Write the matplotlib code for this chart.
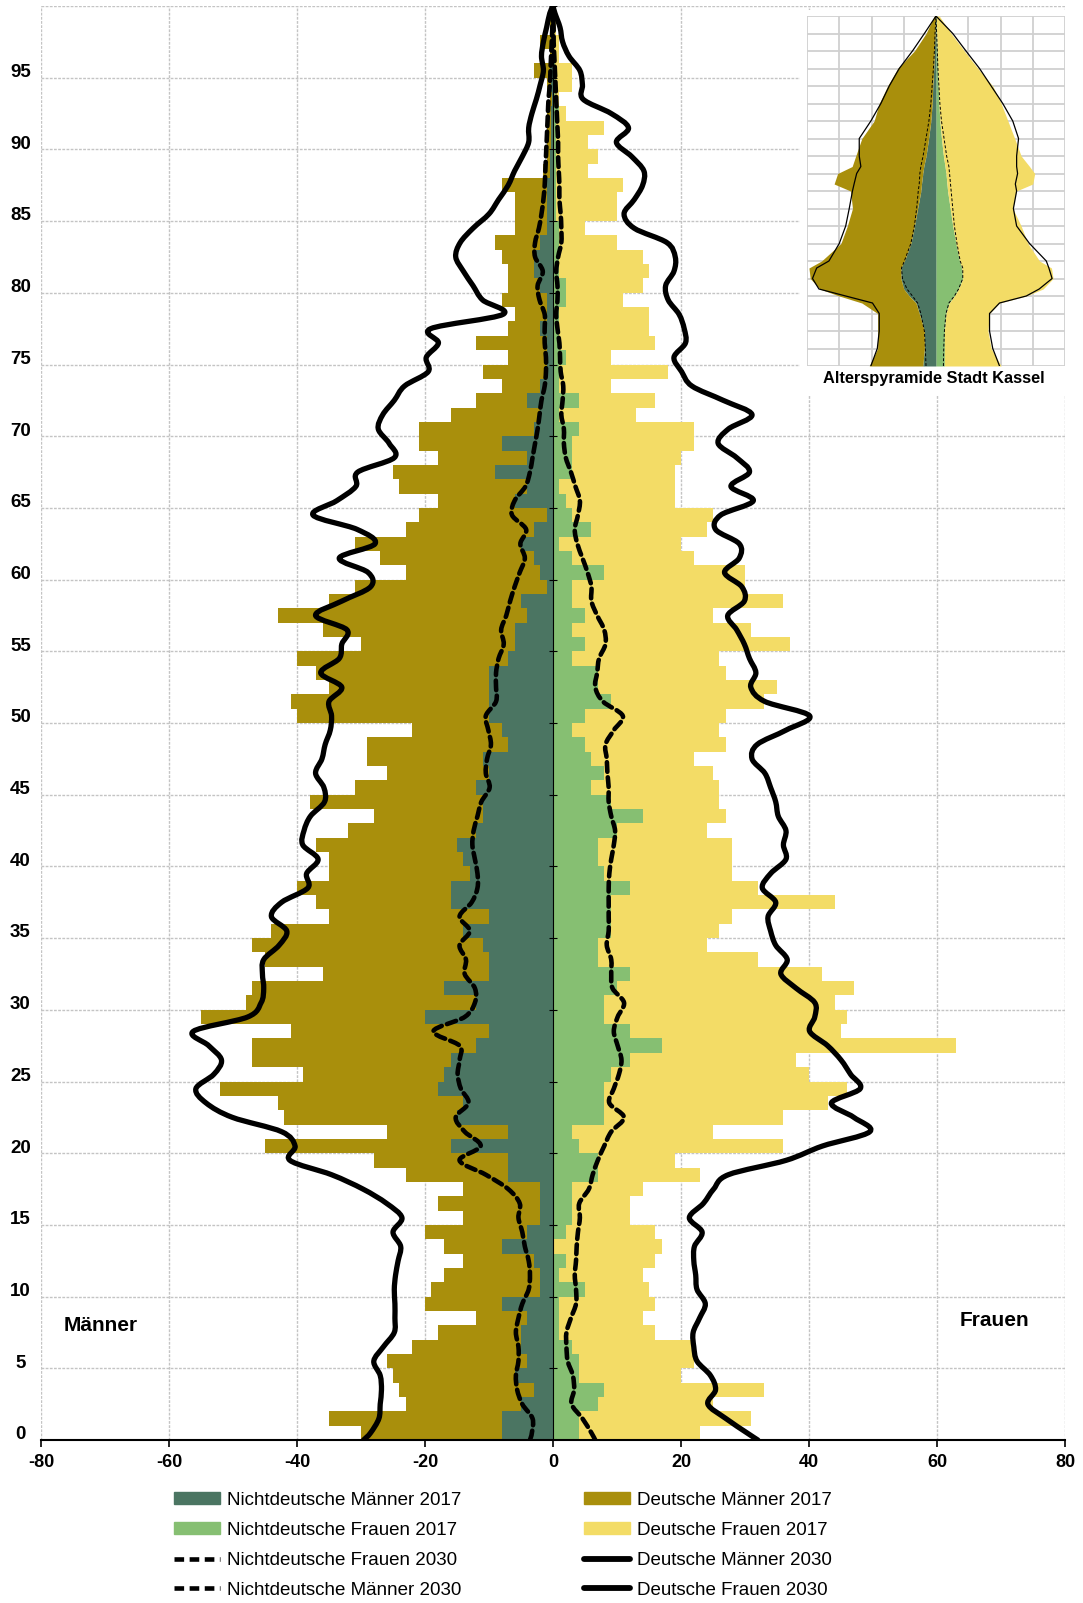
import numpy as np
import matplotlib
matplotlib.use("Agg")
from matplotlib import pyplot as plt
from matplotlib.path import Path
from matplotlib.patches import PathPatch, Patch, Rectangle
from matplotlib.lines import Line2D

plt.rcParams['font.family'] = ['Liberation Sans', 'DejaVu Sans']
plt.rcParams['axes.unicode_minus'] = False

# ---- data: Kassel, age 0..99 ----
alter = np.arange(100)

# outer edge of men bars 2017 (nichtdeutsch + deutsch)
maenner_2017_gesamt = [
    30, 35, 23, 24, 25, 26, 22, 18, 12, 20,
    19, 17, 14, 17, 20, 14, 18, 14, 23, 28,
    45, 26, 42, 43, 52, 39, 47, 47, 41, 55,
    48, 47, 36, 45, 47, 44, 35, 37, 40, 35,
    35, 37, 32, 28, 38, 31, 26, 29, 29, 22,
    40, 41, 35, 37, 40, 30, 36, 43, 35, 31,
    23, 27, 31, 23, 21, 18, 24, 25, 18, 21,
    21, 16, 12, 8, 11, 7, 12, 7, 6, 8,
    7, 7, 8, 9, 6, 6, 6, 8, 1.5, 1,
    1, 1, 1, 0.5, 1, 3, 0.5, 2, 0.5, 0.3]

nd_maenner_2017 = [
    8, 8, 5, 3, 6, 4, 5, 5, 4, 8,
    2, 2, 3, 8, 4, 2, 2, 2, 7, 7,
    16, 7, 15, 14, 18, 17, 16, 12, 10, 20,
    12, 17, 10, 10, 11, 14, 10, 16, 16, 13,
    14, 15, 12, 11, 11, 12, 10, 11, 7, 8,
    10, 10, 10, 10, 7, 6, 6, 4, 5, 1,
    2, 3, 5, 3, 1, 6, 4, 9, 4, 8,
    3, 2, 4, 2, 1, 1, 1, 2, 1, 1,
    2, 3, 3, 2, 1, 1, 1, 1, 0.5, 0.5,
    0.3, 0.3, 0.3, 0.2, 0.3, 0.5, 0.2, 0.3, 0.1, 0.1]

nd_frauen_2017 = [
    4, 4, 7, 8, 4, 4, 3, 1, 1, 1,
    5, 1, 2, 0, 2, 3, 3, 3, 7, 7,
    4, 3, 8, 8, 8, 9, 12, 17, 12, 8,
    8, 10, 12, 7, 7, 9, 9, 9, 12, 8,
    7, 7, 10, 14, 9, 6, 8, 6, 5, 3,
    5, 9, 7, 7, 3, 5, 3, 5, 3, 3,
    8, 3, 1, 6, 3, 2, 1, 3, 3, 3,
    4, 1, 4, 1, 1, 2, 1, 1, 1, 2,
    2, 1, 1, 1, 1, 0.5, 0.5, 0.5, 0.5, 0.5,
    0.5, 0.5, 1, 0.3, 0.3, 0.3, 0.2, 0.2, 0.1, 0.1]

# outer edge of women bars 2017
frauen_2017_gesamt = [
    23, 31, 25, 33, 20, 22, 22, 16, 14, 16,
    15, 14, 16, 17, 16, 12, 12, 14, 23, 19,
    36, 25, 36, 43, 46, 40, 38, 63, 45, 46,
    44, 47, 42, 32, 24, 26, 28, 44, 32, 28,
    28, 28, 24, 27, 26, 26, 25, 22, 27, 26,
    27, 33, 35, 27, 26, 37, 31, 25, 36, 30,
    30, 22, 20, 24, 25, 19, 19, 19, 20, 22,
    22, 13, 16, 9, 18, 9, 16, 15, 15, 11,
    14, 15, 14, 10, 5, 10, 10, 11, 5.5, 7,
    5.5, 8, 2, 1, 3, 3, 1, 1, 0.5, 0.3]

# 2030 lines: first value at axis line, 100 values at age centres, last at top
linie_y = np.concatenate([[0], alter + 0.5, [100]])

de_maenner_2030 = [29.6,
    28.5, 27.2, 27.0, 26.8, 27.0, 28.0, 26.5, 24.8, 24.7, 24.7,
    24.8, 24.6, 24.2, 23.8, 25.0, 23.6, 26.0, 29.7, 34.6, 41.1,
    40.3, 42.4, 50.1, 54.2, 55.8, 53.0, 51.8, 53.8, 56.2, 47.7,
    45.6, 45.2, 45.4, 45.2, 42.8, 41.6, 44.0, 42.4, 38.3, 38.5,
    36.7, 39.1, 38.9, 37.9, 35.7, 35.8, 37.1, 36.1, 35.6, 34.8,
    34.6, 35.0, 33.0, 36.3, 33.4, 33.0, 32.2, 37.1, 33.0, 28.5,
    28.9, 33.4, 27.8, 30.6, 37.5, 33.8, 30.8, 30.5, 24.8, 25.6,
    27.3, 26.6, 24.8, 23.2, 19.5, 19.8, 17.9, 19.1, 7.8, 11.0,
    12.5, 14.0, 15.2, 14.5, 12.5, 10.0, 8.5, 7.0, 6.0, 4.8,
    3.8, 3.8, 3.3, 2.6, 2.0, 1.5, 1.8, 1.5, 1.0, 0.5,
    0]

de_frauen_2030 = [32.0,
    30.3, 27.0, 24.2, 25.4, 24.6, 22.5, 22.0, 21.9, 22.9, 23.8,
    22.5, 22.3, 22.0, 22.1, 23.3, 21.3, 23.5, 25.1, 27.4, 36.4,
    42.1, 49.5, 47.0, 43.5, 48.0, 46.5, 45.0, 42.9, 40.1, 40.9,
    40.9, 38.0, 35.6, 36.6, 34.8, 34.0, 33.6, 34.8, 32.7, 34.0,
    36.4, 36.0, 36.4, 35.2, 34.8, 34.0, 33.1, 31.1, 31.9, 36.4,
    40.1, 33.1, 30.9, 31.7, 30.7, 29.9, 28.7, 27.3, 29.9, 29.5,
    26.8, 29.1, 29.1, 25.4, 26.2, 31.3, 27.8, 30.7, 28.7, 25.8,
    27.4, 31.1, 26.6, 21.7, 20.1, 18.9, 20.7, 20.5, 19.7, 18.0,
    17.6, 18.9, 19.1, 17.8, 12.7, 11.1, 12.7, 14.0, 14.2, 12.3,
    9.9, 11.8, 9.1, 4.7, 4.6, 4.2, 2.5, 1.5, 1.1, 0.3,
    0]

nd_maenner_2030 = [3.6,
    3.3, 3.2, 4.8, 5.6, 5.8, 5.4, 5.4, 5.8, 5.4, 4.8,
    3.8, 3.6, 3.8, 4.4, 4.8, 5.4, 5.2, 7.0, 10.5, 14.6,
    11.3, 13.8, 15.2, 13.2, 14.4, 14.9, 14.6, 14.6, 18.7, 13.8,
    12.2, 12.2, 13.8, 13.6, 14.6, 13.0, 14.6, 12.7, 11.8, 11.8,
    12.2, 12.6, 12.4, 11.8, 11.2, 9.9, 10.5, 10.3, 9.7, 10.1,
    10.5, 8.9, 8.9, 8.9, 8.5, 7.7, 8.1, 7.3, 6.7, 6.0,
    5.2, 4.4, 5.1, 4.2, 6.4, 6.0, 4.3, 3.6, 3.2, 2.8,
    2.4, 2.1, 1.8, 1.3, 1.1, 1.1, 1.3, 1.3, 1.3, 2.1,
    2.4, 1.6, 2.8, 2.8, 2.2, 1.8, 1.5, 1.3, 1.2, 1.1,
    1.0, 0.9, 0.8, 0.7, 0.5, 0.4, 0.3, 0.2, 0.1, 0.0,
    0]

nd_frauen_2030 = [6.6,
    6.0, 4.6, 2.9, 3.3, 3.1, 2.3, 2.1, 2.1, 2.8, 3.6,
    3.6, 3.4, 3.6, 3.7, 3.9, 4.2, 4.1, 5.6, 6.2, 7.0,
    8.0, 9.1, 11.1, 8.8, 9.5, 10.3, 10.7, 10.1, 9.5, 10.1,
    11.1, 9.3, 9.1, 9.1, 8.4, 8.7, 8.7, 8.7, 8.7, 8.8,
    9.1, 9.5, 9.7, 9.1, 8.7, 8.7, 8.5, 8.4, 8.2, 9.5,
    10.9, 7.8, 6.6, 6.9, 7.2, 8.2, 8.0, 6.9, 6.0, 6.0,
    5.4, 4.6, 3.8, 3.4, 3.9, 4.2, 3.5, 2.8, 2.0, 1.7,
    1.7, 1.3, 1.5, 1.6, 1.2, 1.1, 1.0, 0.7, 0.5, 0.7,
    0.7, 0.5, 0.8, 1.3, 1.3, 1.2, 1.0, 1.0, 0.9, 0.8,
    0.8, 0.7, 0.6, 0.5, 0.4, 0.3, 0.2, 0.1, 0.1, 0.0,
    0]

# small inset "Alterspyramide Stadt Kassel" (relative units)
inset_alter = [0, 5, 10, 15, 18, 20, 22, 25, 28, 30, 35, 40, 45, 50, 52,
               55, 57, 60, 65, 70, 75, 80, 85, 90, 95, 100]
inset_m_gesamt = [2.07, 1.81, 1.81, 1.81, 2.3, 3.0, 3.6, 3.9, 3.94, 3.55, 2.95,
                  2.75, 2.59, 2.65, 3.16, 3.05, 2.6, 2.49, 2.3, 1.92, 1.76,
                  1.5, 1.19, 0.67, 0.31, 0.05]
inset_m_nd = [0.41, 0.36, 0.36, 0.52, 0.62, 0.83, 1.0, 1.09, 1.09, 0.98, 0.78,
              0.67, 0.57, 0.47, 0.45, 0.41, 0.38, 0.31, 0.23, 0.16, 0.12, 0.1,
              0.07, 0.05, 0.03, 0.01]
inset_f_nd = [0.26, 0.26, 0.26, 0.31, 0.41, 0.57, 0.7, 0.83, 0.8, 0.73, 0.62,
              0.52, 0.44, 0.36, 0.34, 0.31, 0.28, 0.23, 0.17, 0.12, 0.09, 0.07,
              0.05, 0.04, 0.02, 0.01]
inset_f_gesamt = [2.02, 1.71, 1.61, 1.66, 1.97, 2.8, 3.32, 3.63, 3.58, 3.21, 2.85,
                  2.64, 2.38, 2.49, 3.0, 3.06, 2.9, 2.64, 2.44, 2.23, 2.02, 1.76,
                  1.3, 0.88, 0.47, 0.1]
inset_m_2030 = [2.02, 1.82, 1.76, 1.76, 1.97, 2.8, 3.63, 3.83, 3.7, 3.32, 3.0,
                2.8, 2.69, 2.59, 2.54, 2.46, 2.33, 2.38, 2.38, 2.02, 1.71, 1.45,
                1.14, 0.73, 0.36, 0.0]
inset_f_2030 = [1.97, 1.76, 1.66, 1.66, 1.97, 2.8, 3.2, 3.6, 3.5, 3.42, 2.9,
                2.5, 2.4, 2.5, 2.46, 2.53, 2.5, 2.5, 2.56, 2.38, 2.07, 1.71,
                1.35, 0.93, 0.52, 0.0]
inset_m_nd_2030 = [0.31, 0.33, 0.36, 0.47, 0.57, 0.73, 0.9, 1.04, 1.07, 0.98, 0.78,
                   0.67, 0.6, 0.55, 0.52, 0.5, 0.47, 0.4, 0.31, 0.22, 0.16, 0.12,
                   0.08, 0.05, 0.03, 0.0]
inset_f_nd_2030 = [0.23, 0.24, 0.26, 0.31, 0.4, 0.57, 0.7, 0.83, 0.83, 0.75, 0.65,
                   0.57, 0.52, 0.47, 0.45, 0.42, 0.4, 0.33, 0.25, 0.17, 0.12, 0.09,
                   0.06, 0.04, 0.02, 0.0]

c_ndm = '#4b7562'
c_dm = '#a98f0c'
c_ndf = '#86bf72'
c_df = '#f3dc66'
grid_c = '#c4c4c4'


def smooth_path(xs, ys):
    # excel-like smoothed line (catmull-rom as bezier)
    pts = np.column_stack([xs, ys]).astype(float)
    n = len(pts)
    verts = [pts[0]]
    codes = [Path.MOVETO]
    for i in range(n - 1):
        p0 = pts[i - 1] if i > 0 else pts[i]
        p1, p2 = pts[i], pts[i + 1]
        p3 = pts[i + 2] if i + 2 < n else pts[i + 1]
        verts += [p1 + (p2 - p0) / 6, p2 - (p3 - p1) / 6, p2]
        codes += [Path.CURVE4] * 3
    return Path(verts, codes)


nd_m = np.array(nd_maenner_2017)
de_m = np.array(maenner_2017_gesamt) - nd_m
nd_f = np.array(nd_frauen_2017)
de_f = np.array(frauen_2017_gesamt) - nd_f

fig = plt.figure(figsize=(10.83, 16.03), dpi=100)
ax = fig.add_axes([41 / 1083, 1 - 1440 / 1603, 1024 / 1083, 1434 / 1603])

y = alter + 0.5
ax.barh(y, -nd_m, height=1.0, color=c_ndm, lw=0, zorder=2)
ax.barh(y, -de_m, left=-nd_m, height=1.0, color=c_dm, lw=0, zorder=2)
ax.barh(y, nd_f, height=1.0, color=c_ndf, lw=0, zorder=2)
ax.barh(y, de_f, left=nd_f, height=1.0, color=c_df, lw=0, zorder=2)

ax.axvline(0, color='black', lw=0.8, zorder=3)
ax.hlines(range(0, 101, 5), -0.7, 0.7, colors='black', lw=0.8, zorder=3)

dash = (0, (2.1, 1.2))
for vals, sign, ls, lw in [(de_maenner_2030, -1, '-', 3.8), (de_frauen_2030, 1, '-', 3.8),
                           (nd_maenner_2030, -1, dash, 3.3), (nd_frauen_2030, 1, dash, 3.3)]:
    p = smooth_path(sign * np.array(vals), linie_y)
    ax.add_patch(PathPatch(p, fill=False, ec='black', lw=lw, ls=ls,
                           joinstyle='round', capstyle='round', zorder=4))

ax.set_xlim(-80, 80)
ax.set_ylim(0, 100)
ax.set_xticks(range(-80, 81, 20))
ax.set_xticklabels([str(v) for v in range(-80, 81, 20)], fontsize=13, fontweight='bold')
ax.set_yticks(np.arange(0, 100, 5) + 0.5)
ax.set_yticklabels([str(v) for v in range(0, 100, 5)], fontsize=13.5, fontweight='bold')
ax.set_yticks(range(0, 101, 5), minor=True)
ax.set_axisbelow(True)
ax.grid(axis='x', which='major', color=grid_c, lw=1.0, ls=(0, (2, 1)))
ax.grid(axis='y', which='minor', color=grid_c, lw=1.0, ls=(0, (2, 1)))
ax.tick_params(axis='y', which='both', length=0, pad=14.8)
for lab in ax.get_yticklabels():
    lab.set_horizontalalignment('center')
ax.tick_params(axis='x', length=5, width=1.2, pad=5)
for s in ['left', 'right', 'top']:
    ax.spines[s].set_visible(False)
ax.spines['bottom'].set_linewidth(1.5)

ax.text(-70.6, 8.0, 'Männer', ha='center', va='center', fontsize=15, fontweight='bold')
ax.text(69.0, 8.3, 'Frauen', ha='center', va='center', fontsize=15, fontweight='bold')

handles = [Patch(color=c_ndm), Patch(color=c_ndf),
           Line2D([], [], color='black', lw=3.3, ls=dash),
           Line2D([], [], color='black', lw=3.3, ls=dash),
           Patch(color=c_dm), Patch(color=c_df),
           Line2D([], [], color='black', lw=4.2, solid_capstyle='round'),
           Line2D([], [], color='black', lw=4.2, solid_capstyle='round')]
labels = ['Nichtdeutsche Männer 2017', 'Nichtdeutsche Frauen 2017',
          'Nichtdeutsche Frauen 2030', 'Nichtdeutsche Männer 2030',
          'Deutsche Männer 2017', 'Deutsche Frauen 2017',
          'Deutsche Männer 2030', 'Deutsche Frauen 2030']
fig.legend(handles, labels, ncol=2, loc='upper left',
           bbox_to_anchor=(174 / 1083, 1 - 1492 / 1603), frameon=False,
           fontsize=13.5, handlelength=2.45, handleheight=0.62,
           handletextpad=0.37, columnspacing=6.57, labelspacing=0.69,
           borderpad=0, borderaxespad=0)

# white box behind the inset
fig.patches.append(Rectangle((800 / 1083, 1 - 395 / 1603), 283 / 1083, 385 / 1603,
                             transform=fig.transFigure, facecolor='white',
                             edgecolor='none', zorder=1))

axi = fig.add_axes([807 / 1083, 1 - 366 / 1603, 258 / 1083, 350 / 1603], zorder=2)
ia = np.array(inset_alter)
axi.fill_betweenx(ia, -np.array(inset_m_nd), 0, color=c_ndm, lw=0, zorder=2)
axi.fill_betweenx(ia, -np.array(inset_m_gesamt), -np.array(inset_m_nd), color=c_dm, lw=0, zorder=2)
axi.fill_betweenx(ia, 0, inset_f_nd, color=c_ndf, lw=0, zorder=2)
axi.fill_betweenx(ia, inset_f_nd, inset_f_gesamt, color=c_df, lw=0, zorder=2)
axi.plot(-np.array(inset_m_2030), ia, color='black', lw=0.9, zorder=3)
axi.plot(inset_f_2030, ia, color='black', lw=0.9, zorder=3)
axi.plot(-np.array(inset_m_nd_2030), ia, color='black', lw=0.7, ls=(0, (3, 2)), zorder=3)
axi.plot(inset_f_nd_2030, ia, color='black', lw=0.7, ls=(0, (3, 2)), zorder=3)
axi.set_xlim(-4, 4)
axi.set_ylim(0, 100)
axi.set_xticks(range(-4, 5))
axi.set_yticks(range(0, 101, 5))
axi.set_axisbelow(True)
axi.grid(True, color='#d0d0d0', lw=1.3)
axi.tick_params(length=0, labelbottom=False, labelleft=False)
for s in axi.spines.values():
    s.set_visible(False)
fig.text(934 / 1083, 1 - 379 / 1603, 'Alterspyramide Stadt Kassel', ha='center',
         va='center', fontsize=11.8, fontweight='bold')

fig.savefig('out.png', dpi=100)
